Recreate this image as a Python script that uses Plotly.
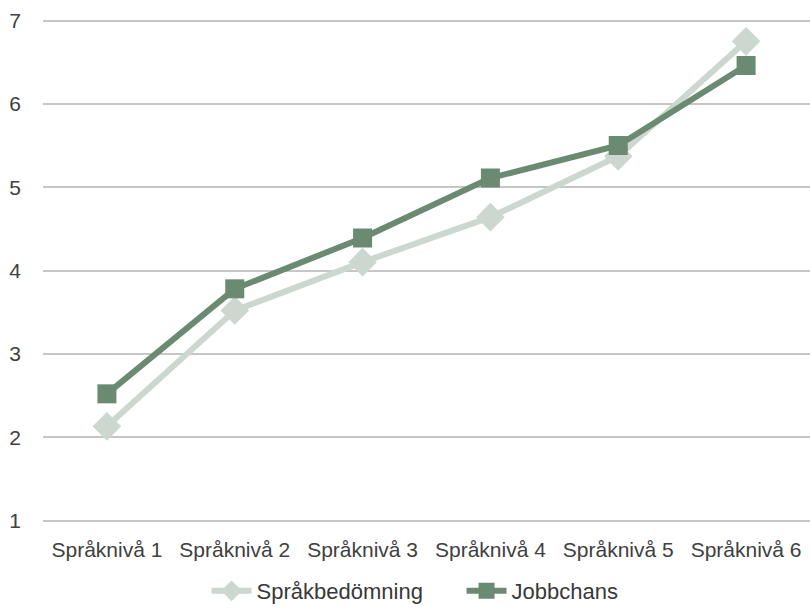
import plotly.graph_objects as go

categories = ["Språknivå 1", "Språknivå 2", "Språknivå 3", "Språknivå 4", "Språknivå 5", "Språknivå 6"]
sprakbedomning = [2.13, 3.52, 4.10, 4.64, 5.37, 6.75]
jobbchans = [2.52, 3.78, 4.39, 5.11, 5.50, 6.46]
y_ticks = [1, 2, 3, 4, 5, 6, 7]

fig = go.Figure()
fig.add_trace(go.Scatter(
    x=categories, y=sprakbedomning, name="Språkbedömning",
    mode="lines+markers",
    line=dict(color="#cbd7cf", width=6),
    marker=dict(symbol="diamond", size=22, color="#cbd7cf"),
))
fig.add_trace(go.Scatter(
    x=categories, y=jobbchans, name="Jobbchans",
    mode="lines+markers",
    line=dict(color="#6a8a72", width=6),
    marker=dict(symbol="square", size=19, color="#6a8a72"),
))

fig.update_layout(
    width=810, height=612,
    margin=dict(l=43, r=0, t=17.5, b=88.5, autoexpand=False),
    paper_bgcolor="white", plot_bgcolor="white",
    font=dict(family="Liberation Sans, Arial, sans-serif", size=21, color="#404040"),
    showlegend=True,
    legend=dict(orientation="h", x=0.255, xanchor="left", xref="container",
                y=-0.022, yanchor="bottom", yref="container",
                font=dict(size=22, color="#383838"), itemwidth=40,
                entrywidth=200, entrywidthmode="pixels",
                tracegroupgap=0),
)
fig.update_xaxes(
    type="category", range=[-0.5, 5.5], automargin=False,
    showgrid=False, showline=False, zeroline=False,
    tickfont=dict(size=21, color="#404040"),
    ticklabelstandoff=12,
)
fig.update_yaxes(
    range=[0.97, 7.03], tickvals=y_ticks, automargin=False,
    showgrid=True, gridcolor="#c6c6c6", gridwidth=1.5,
    zeroline=False, showline=False,
    tickfont=dict(size=21, color="#404040"),
    ticklabelstandoff=21,
)

fig.write_html("out.html", config={"displayModeBar": False},
               post_script="document.body.style.margin='0px';")
